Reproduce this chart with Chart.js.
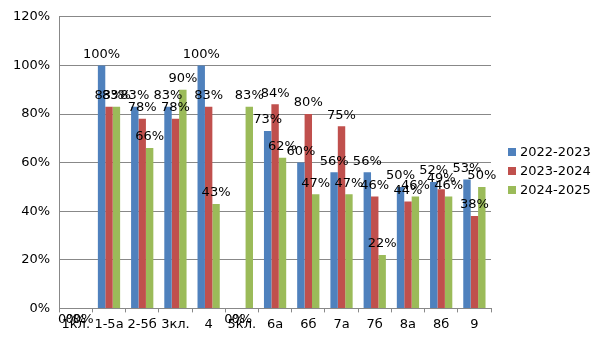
<!DOCTYPE html>
<html>
<head>
<meta charset="utf-8">
<script src="https://cdn.jsdelivr.net/npm/chart.js@4/dist/chart.umd.min.js"></script>
<style>
  html, body { margin: 0; padding: 0; background: #fff; }
  #wrap { position: relative; width: 605px; height: 340px; }
  #legend { position: absolute; left: 508px; top: 142px; font: 13px "DejaVu Sans"; color: #000; }
  #legend div { height: 19px; line-height: 19px; white-space: nowrap; }
  #legend span { display: inline-block; width: 8px; height: 8px; margin-right: 4px; vertical-align: 0; }
</style>
</head>
<body>
<div id="wrap"><canvas id="chart"></canvas><div id="legend"></div></div>
<script>
const classes = ['1кл.', '1-5а', '2-5б', '3кл.', '4', '5кл.', '6а', '6б', '7а', '7б', '8а', '8б', '9'];
const years = ['2022-2023', '2023-2024', '2024-2025'];
const values2022 = [0, 100, 83, 83, 100, 0, 73, 60, 56, 56, 50, 52, 53];
const values2023 = [0, 83, 78, 78, 83, 0, 84, 80, 75, 46, 44, 49, 38];
const values2024 = [0, 83, 66, 90, 43, 83, 62, 47, 47, 22, 46, 46, 50];
const colors = ['#4F81BD', '#C0504D', '#9BBB59'];

const font = { family: 'DejaVu Sans', size: 13 };

// prints the percent over each bar (zero values go under the axis)
const valueLabels = {
    id: 'valueLabels',
    afterDatasetsDraw(chart) {
        const ctx = chart.ctx;
        ctx.save();
        ctx.font = '13px "DejaVu Sans"';
        ctx.fillStyle = '#000';
        ctx.textAlign = 'center';
        ctx.textBaseline = 'middle';
        chart.data.datasets.forEach((ds, i) => {
            chart.getDatasetMeta(i).data.forEach((bar, j) => {
                const v = ds.data[j];
                const y = v === 0 ? bar.y + 11 : bar.y - 11;
                ctx.fillText(v + '%', bar.x, y);
            });
        });
        ctx.restore();
    }
};

const chart = new Chart(document.getElementById('chart'), {
    type: 'bar',
    data: {
        labels: classes,
        datasets: [values2022, values2023, values2024].map((d, i) => ({
            label: years[i],
            data: d,
            backgroundColor: colors[i],
            categoryPercentage: 0.67,
            barPercentage: 1.0,
        })),
    },
    options: {
        responsive: true,
        maintainAspectRatio: false,
        animation: false,
        layout: { padding: { left: 4, top: 2, right: 114, bottom: 4 } },
        scales: {
            y: {
                min: 0,
                max: 120,
                ticks: {
                    stepSize: 20,
                    padding: 9,
                    color: '#000',
                    font: font,
                    callback: (v) => v + '%',
                },
                grid: { color: '#888', drawTicks: false },
                border: { color: '#888' },
            },
            x: {
                ticks: { color: '#000', font: font, padding: 4, maxRotation: 0, autoSkip: false },
                grid: { drawOnChartArea: false, color: '#888', tickLength: 4 },
                border: { color: '#888' },
            },
        },
        plugins: {
            legend: { display: false },
            tooltip: { enabled: false },
        },
    },
    plugins: [valueLabels],
});

// legend on the right, built from the dataset colours
const legend = document.getElementById('legend');
chart.data.datasets.forEach((ds) => {
    const row = document.createElement('div');
    const box = document.createElement('span');
    box.style.background = ds.backgroundColor;
    row.appendChild(box);
    row.appendChild(document.createTextNode(ds.label));
    legend.appendChild(row);
});
</script>
</body>
</html>
